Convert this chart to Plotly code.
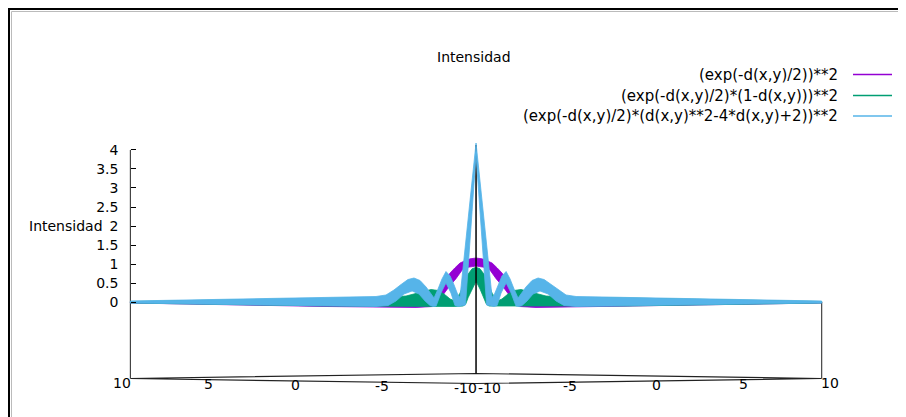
import plotly.graph_objects as go

# ---------------- data ----------------
axis_a_ticks = [10, 5, 0, -5, -10]      # labels along the front-left base edge
axis_b_ticks = [-10, -5, 0, 5, 10]      # labels along the front-right base edge
z_ticks = [0, 0.5, 1, 1.5, 2, 2.5, 3, 3.5, 4]
z_ticktext = ["0", "0.5", "1", "1.5", "2", "2.5", "3", "3.5", "4"]
xy_lo, xy_hi = -10, 10
z_lo, z_hi = 0, 4
z_base = -2.0

series_names = [
    "(exp(-d(x,y)/2))**2",
    "(exp(-d(x,y)/2)*(1-d(x,y)))**2",
    "(exp(-d(x,y)/2)*(d(x,y)**2-4*d(x,y)+2))**2",
]

# visible envelopes of each surface (horizontal position along the view, intensity)
u_purple_top = [-20, -11.57, -5.79, -4.05, -2.89, -2.67, -2.38, -2.20, -1.99, -1.74, -1.50, -1.23, -0.93, -0.69,
                -0.35, 0, 0.35, 0.69, 0.93, 1.23, 1.50, 1.74, 1.99, 2.20, 2.38, 2.67, 2.89, 4.05, 5.79, 11.57, 20]
z_purple_top = [0.008, 0.060, 0.073, 0.060, 0.040, 0.040, 0.150, 0.260, 0.450, 0.620, 0.770, 0.900, 1.030, 1.080,
                1.140, 1.163, 1.140, 1.080, 1.030, 0.900, 0.770, 0.620, 0.450, 0.260, 0.150, 0.040, 0.040, 0.060,
                0.073, 0.060, 0.008]
u_purple_bot = [-20, -8.68, -3.47, -2.50, -2.20, -1.90, -1.56, -1.16, -0.80, -0.46, 0,
                0.46, 0.80, 1.16, 1.56, 1.90, 2.20, 2.50, 3.47, 8.68, 20]
z_purple_bot = [-0.018, -0.110, -0.136, -0.110, 0.000, 0.200, 0.410, 0.620, 0.850, 0.920, 0.950,
                0.920, 0.850, 0.620, 0.410, 0.200, 0.000, -0.110, -0.136, -0.110, -0.018]

u_green_top = [-20, -8.68, -5.79, -4.05, -3.18, -2.60, -2.20, -1.85, -1.50, -1.22, -0.93, -0.69, -0.46, -0.23, 0,
               0.23, 0.46, 0.69, 0.93, 1.22, 1.50, 1.85, 2.20, 2.60, 3.18, 4.05, 5.79, 8.68, 20]
z_green_top = [0.021, 0.113, 0.126, 0.165, 0.270, 0.336, 0.310, 0.218, 0.087, 0.034, 0.240, 0.520, 0.740, 0.880,
               0.920, 0.880, 0.740, 0.520, 0.240, 0.034, 0.087, 0.218, 0.310, 0.336, 0.270, 0.165, 0.126, 0.113,
               0.021]
u_green_bot = [-20, -8.68, -3.47, -1.27, -0.75, -0.60, -0.46, -0.23, 0,
               0.23, 0.46, 0.60, 0.75, 1.27, 3.47, 8.68, 20]
z_green_bot = [-0.018, -0.097, -0.110, -0.110, -0.097, -0.050, 0.120, 0.350, 0.550,
               0.350, 0.120, -0.050, -0.097, -0.110, -0.110, -0.097, -0.018]

u_blue_top = [-20, -14.47, -8.68, -5.79, -5.21, -4.75, -4.34, -3.94, -3.59, -3.24, -2.89, -2.60, -2.43, -2.20,
              -1.97, -1.74, -1.50, -1.27, -1.07, -0.93, -0.69, -0.35, 0,
              0.35, 0.69, 0.93, 1.07, 1.27, 1.50, 1.74, 1.97, 2.20, 2.43, 2.60, 2.89, 3.24, 3.59, 3.94,
              4.34, 4.75, 5.21, 5.79, 8.68, 14.47, 20]
z_blue_top = [0.034, 0.073, 0.126, 0.152, 0.192, 0.323, 0.467, 0.598, 0.638, 0.572, 0.402, 0.218, 0.113, 0.349,
              0.612, 0.808, 0.690, 0.454, 0.218, 0.126, 1.123, 2.66, 4.18,
              2.66, 1.123, 0.126, 0.218, 0.454, 0.690, 0.808, 0.612, 0.349, 0.113, 0.218, 0.402, 0.572, 0.638, 0.598,
              0.467, 0.323, 0.192, 0.152, 0.126, 0.073, 0.034]
u_blue_bot = [-20, -14.47, -8.68, -5.79, -5.09, -4.63, -4.17, -3.70, -3.30, -2.95, -2.66, -2.49, -2.31, -2.03,
              -1.74, -1.45, -1.22, -1.04, -0.61, -0.46, -0.23, 0,
              0.23, 0.46, 0.61, 1.04, 1.22, 1.45, 1.74, 2.03, 2.31, 2.49, 2.66, 2.95, 3.30, 3.70, 4.17,
              4.63, 5.09, 5.79, 8.68, 14.47, 20]
z_blue_bot = [-0.018, -0.058, -0.097, -0.110, -0.084, 0.034, 0.218, 0.297, 0.218, 0.034, -0.084, -0.110, -0.097, 0.244,
              0.507, 0.244, -0.084, -0.110, -0.071, 0.90, 2.38, 3.87,
              2.38, 0.90, -0.071, -0.110, -0.084, 0.244, 0.507, 0.244, -0.097, -0.110, -0.084, 0.034, 0.218, 0.297, 0.218,
              0.034, -0.084, -0.110, -0.097, -0.058, -0.018]

# ---------------- styling / geometry ----------------
FONT = "DejaVu Sans"
COLORS = ["#9400D3", "#009E73", "#56B4E9"]
W, H = 906, 417
PAGE = 8                      # page margin around the figure in the browser
ML, MT = 92, 32
PW, PH = 750, 360             # plot area size
MR, MB = W - ML - PW, H - MT - PH
TILT = 0.00656                # apparent vertical shift per unit of depth (a+b)


def proj(a, b, z):
    return b - a, z + TILT * (a + b)


def pxx(px):                  # page pixel -> paper x
    return (px - PAGE - ML) / PW


def pxy(py):                  # page pixel -> paper y
    return (MT + PH - (py - PAGE)) / PH


fig = go.Figure()


def add_line(points, color="black", width=1):
    xs = [p[0] for p in points]
    ys = [p[1] for p in points]
    fig.add_trace(go.Scatter(x=xs, y=ys, mode="lines", line=dict(color=color, width=width),
                             hoverinfo="skip", showlegend=False))


def add_band(u_top, z_top, u_bot, z_bot, color, name):
    xs = list(u_top) + list(reversed(u_bot)) + [u_top[0]]
    ys = list(z_top) + list(reversed(z_bot)) + [z_top[0]]
    fig.add_trace(go.Scatter(x=xs, y=ys, mode="lines", fill="toself", fillcolor=color,
                             line=dict(color=color, width=0.8), name=name,
                             hoverinfo="skip", showlegend=False))


# base of the box
corners = [(xy_hi, xy_lo), (xy_lo, xy_lo), (xy_lo, xy_hi), (xy_hi, xy_hi), (xy_hi, xy_lo)]
add_line([proj(a, b, z_base) for a, b in corners], color="#222222", width=1.2)
# z axis (left corner) and right corner vertical
add_line([proj(xy_hi, xy_lo, z_base), proj(xy_hi, xy_lo, z_hi)], color="#444444", width=1.2)
add_line([proj(xy_lo, xy_hi, z_base), proj(xy_lo, xy_hi, z_lo)], color="#444444", width=1.2)

# surfaces
add_band(u_purple_top, z_purple_top, u_purple_bot, z_purple_bot, COLORS[0], series_names[0])
add_band(u_green_top, z_green_top, u_green_bot, z_green_bot, COLORS[1], series_names[1])
# back vertical edge (seen through the surfaces)
add_line([proj(xy_hi, xy_hi, z_base), proj(xy_hi, xy_hi, z_hi)], color="black", width=1.5)
add_band(u_blue_top, z_blue_top, u_blue_bot, z_blue_bot, COLORS[2], series_names[2])

annotations = []
# base tick labels
for a in axis_a_ticks:
    u, z = proj(a, xy_lo, z_base)
    shift = -11 if a == xy_lo else -8
    annotations.append(dict(x=u, y=z, xref="x", yref="y", text=str(a), showarrow=False,
                            xanchor="center", yanchor="middle", xshift=shift, yshift=-4,
                            font=dict(family=FONT, size=14, color="black")))
for b in axis_b_ticks:
    u, z = proj(xy_lo, b, z_base)
    shift = 13 if b == xy_lo else 8
    annotations.append(dict(x=u, y=z, xref="x", yref="y", text=str(b), showarrow=False,
                            xanchor="center", yanchor="middle", xshift=shift, yshift=-4,
                            font=dict(family=FONT, size=14, color="black")))

# z axis label
annotations.append(dict(x=pxx(105), y=2, xref="paper", yref="y", text="Intensidad", showarrow=False,
                        xanchor="right", yanchor="middle", font=dict(family=FONT, size=14, color="black")))
# title
annotations.append(dict(x=pxx(474), y=pxy(57), xref="paper", yref="paper", text="Intensidad",
                        showarrow=False, xanchor="center", yanchor="middle",
                        font=dict(family=FONT, size=14, color="black")))

shapes = []
legend_y = [74.5, 95.5, 116]
for name, col, ly in zip(series_names, COLORS, legend_y):
    annotations.append(dict(x=pxx(840), y=pxy(ly), xref="paper", yref="paper", text=name,
                            showarrow=False, xanchor="right", yanchor="middle",
                            font=dict(family=FONT, size=15, color="black")))
    shapes.append(dict(type="line", xref="paper", yref="paper", x0=pxx(853), x1=pxx(892),
                       y0=pxy(ly), y1=pxy(ly), line=dict(color=col, width=1.5)))

# canvas frame (top and left visible)
shapes.append(dict(type="line", xref="paper", yref="paper", x0=pxx(8), x1=pxx(W + 20),
                   y0=pxy(9), y1=pxy(9), line=dict(color="black", width=2)))
shapes.append(dict(type="line", xref="paper", yref="paper", x0=pxx(9), x1=pxx(9),
                   y0=pxy(8), y1=pxy(H + 20), line=dict(color="black", width=2)))
shapes.append(dict(type="line", xref="paper", yref="paper", x0=pxx(11.5), x1=pxx(W + 20),
                   y0=pxy(11.5), y1=pxy(11.5), line=dict(color="#bbbbbb", width=1)))
shapes.append(dict(type="line", xref="paper", yref="paper", x0=pxx(11.5), x1=pxx(11.5),
                   y0=pxy(11.5), y1=pxy(H + 20), line=dict(color="#bbbbbb", width=1)))

u_range = [-21.76, 21.64]
z_range = [-2.564, 6.884]
u_left = proj(xy_hi, xy_lo, 0)[0]

fig.update_layout(
    width=W, height=H,
    margin=dict(l=ML, r=MR, t=MT, b=MB, pad=0),
    paper_bgcolor="white", plot_bgcolor="white",
    showlegend=False,
    xaxis=dict(range=u_range, visible=False, fixedrange=True),
    yaxis=dict(range=z_range, anchor="free",
               position=(u_left - u_range[0]) / (u_range[1] - u_range[0]),
               tickvals=z_ticks, ticktext=z_ticktext, ticks="inside", ticklen=5,
               tickcolor="black", tickwidth=1, showline=False, showgrid=False, zeroline=False,
               ticklabelstandoff=12, tickfont=dict(family=FONT, size=14, color="black"),
               fixedrange=True),
    annotations=annotations,
    shapes=shapes,
)

fig.write_html("out.html")
